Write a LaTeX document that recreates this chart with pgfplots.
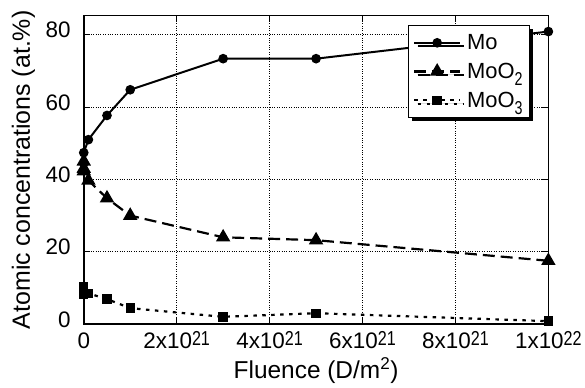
\documentclass[border=0pt]{standalone}
\usepackage{fontspec}
\setmainfont{Liberation Sans}
\usepackage{graphicx}
\usepackage{pgfplots}
\pgfplotsset{compat=1.18}
\usetikzlibrary{shadows}
\newcommand\sps[1]{\raisebox{3.5bp}{\scalebox{0.72}[0.9]{#1}}}
\newcommand\sbs[1]{\raisebox{-7bp}{\scalebox{0.65}[0.85]{#1}}}
\newcommand\deep{\vrule depth 15bp width 0pt height 0pt}
\begin{document}
\begin{tikzpicture}
\begin{axis}[
  name=ax,
  scale only axis,
  width=466bp, height=309.3bp,
  xmin=0, xmax=1e22, ymin=0, ymax=85.3,
  xtick={0,2e21,4e21,6e21,8e21,1e22},
  xticklabels={0,2x10\sps{21},4x10\sps{21},6x10\sps{21},8x10\sps{21},1x10\sps{22}},
  ytick={0,20,40,60,80},
  scaled x ticks=false,
  /pgf/number format/assume math mode=true,
  tick label style={font=\fontsize{22.5bp}{26bp}\selectfont},
  xticklabel style={anchor=base, yshift=-25bp},
  yticklabel style={anchor=base east, xshift=-13bp, yshift=-3bp, inner sep=0pt},
  xlabel={Fluence (D/m\textsuperscript{2})},
  ylabel={Atomic concentrations (at.\%)},
  xlabel style={font=\fontsize{24.5bp}{28bp}\selectfont, at={(axis description cs:0.5,0)}, anchor=base, yshift=-55bp},
  ylabel style={font=\fontsize{25bp}{28bp}\selectfont, at={(axis description cs:-0.1159,0.5)}, anchor=base},
  grid=major,
  major grid style={dotted, black, line width=0.8pt},
  tick align=inside,
  tick style={black, line width=1pt},
  major tick length=6bp,
  axis line style={line width=1.6pt},
  legend style={at={(0.961,0.970)}, anchor=north east, draw=black, line width=1.3pt, fill=white,
    drop shadow={shadow xshift=3.5pt, shadow yshift=-3.5pt, fill=black, opacity=1},
    font=\fontsize{22bp}{25bp}\selectfont, row sep=8bp, inner xsep=5bp, inner ysep=7bp},
  legend cell align=left,
  legend image code/.code={\draw[mark repeat=2, mark phase=2, #1] plot coordinates {(0bp,0bp) (23bp,0bp) (46bp,0bp)};},
]
\addplot[black, line width=2pt, mark=*, mark size=3.8bp] coordinates {
 (0,44.5) (0,47.4) (1e20,51) (5e20,57.7) (1e21,64.8) (3e21,73.4) (5e21,73.4) (1e22,80.9)};
\addlegendentry{\hspace{4bp}Mo}
\addplot[black, line width=2.2pt, dash pattern=on 12bp off 6bp, mark=triangle*, mark size=6.2bp, mark options={solid}] coordinates {
 (0,45) (0,43) (0,42.3) (1e20,39.7) (5e20,34.8) (1e21,30) (3e21,24) (5e21,23.2) (1e22,17.5)};
\addlegendentry{\hspace{4bp}MoO\sbs{2}}
\addplot[black, line width=2.2pt, dash pattern=on 3.5bp off 5.5bp, mark=square*, mark size=3.6bp, mark options={solid}] coordinates {
 (0,10.2) (0,8.3) (1e20,8.5) (5e20,6.9) (1e21,4.4) (3e21,2.0) (5e21,3.0) (1e22,0.8)};
\addlegendentry{\hspace{4bp}MoO\sbs{3}\deep}
\end{axis}
\path (ax.south west) ++(-84bp,-61bp);
\path (ax.north east) ++(35bp,15.7bp);
\end{tikzpicture}
\end{document}
